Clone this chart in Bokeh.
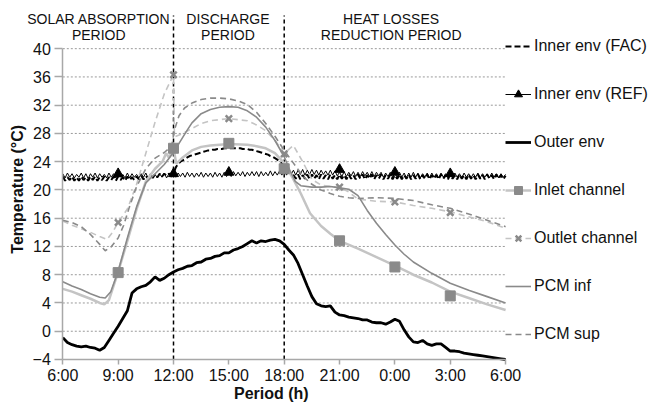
import numpy as np
from bokeh.plotting import figure
from bokeh.models import Range1d, FixedTicker, Legend, LegendItem, Label
from bokeh.embed import file_html
from bokeh.resources import INLINE

# ---------------- data (hours after 6:00) ----------------
x_ticks = [0, 3, 6, 9, 12, 15, 18, 21, 24]
x_tick_labels = ["6:00", "9:00", "12:00", "15:00", "18:00", "21:00", "0:00", "3:00", "6:00"]
y_ticks = [-4, 0, 4, 8, 12, 16, 20, 24, 28, 32, 36, 40]
period_bounds = [6, 12]  # 12:00 and 18:00

# Inner env (REF) sampled every 7.5 min
ref_v = [
    22.3, 21.7, 22.4, 21.8, 22.3, 21.7, 22.2, 21.8, 22.4, 21.7, 22.3, 21.6, 22.3, 21.8, 22.4, 21.7, 22.3, 21.8, 22.2, 21.7, 22.4, 21.8, 22.3, 21.7,
    22.3, 21.8, 22.2, 21.7, 22.4, 21.7, 22.3, 21.8, 22.2, 21.7, 22.3, 21.8, 22.4, 21.7, 22.3, 21.8, 22.2, 21.7, 22.3, 21.8, 22.4, 21.7, 22.3, 21.8,
    22.3, 21.8, 22.4, 21.9, 22.4, 21.8, 22.5, 21.9, 22.4, 21.8, 22.4, 21.9, 22.5, 21.8, 22.4, 21.9, 22.4, 21.8, 22.5, 21.9, 22.4, 21.8, 22.5, 21.9,
    22.5, 21.9, 22.6, 22.0, 22.5, 22.0, 22.6, 21.9, 22.5, 22.0, 22.6, 22.0, 22.6, 21.9, 22.6, 22.0, 22.5, 22.0, 22.7, 22.0, 22.6, 22.1, 22.7, 22.1,
    22.8, 22.1, 22.7, 22.2, 22.8, 22.1, 22.8, 22.2, 22.9, 22.1, 22.8, 22.2, 22.9, 22.2, 22.8, 22.1, 22.8, 22.2, 22.7, 22.1, 22.8, 22.1, 22.7, 22.0,
    22.5, 21.9, 22.6, 21.9, 22.5, 22.0, 22.6, 21.9, 22.5, 21.9, 22.6, 22.0, 22.5, 21.9, 22.6, 21.9, 22.5, 22.0, 22.5, 21.8, 22.4, 21.9, 22.5, 21.8,
    22.4, 21.8, 22.5, 21.8, 22.4, 21.7, 22.4, 21.8, 22.5, 21.8, 22.4, 21.7, 22.3, 21.8, 22.4, 21.7, 22.4, 21.8, 22.3, 21.7, 22.4, 21.8, 22.3, 21.7,
    22.3, 21.7, 22.4, 21.8, 22.3, 21.7, 22.4, 21.8, 22.3, 21.7, 22.3, 21.8, 22.4, 21.7, 22.3, 21.8, 22.3, 21.7, 22.4, 21.8, 22.3, 21.7, 22.3, 21.8,
    22.2,
]
# Inner env (FAC) sampled every 7.5 min
fac_v = [
    21.9, 21.3, 21.8, 21.4, 21.9, 21.3, 21.8, 21.3, 21.9, 21.4, 21.8, 21.3, 21.9, 21.4, 21.9, 21.3, 21.8, 21.4, 21.9, 21.3, 21.8, 21.4, 21.9, 21.3,
    21.9, 21.4, 21.8, 21.3, 21.9, 21.4, 21.8, 21.4, 21.9, 21.5, 22.0, 21.5, 22.0, 21.6, 22.1, 21.7, 22.2, 21.8, 22.3, 21.9, 22.3, 22.0, 22.3, 22.2,
    22.3, 23.2, 23.7, 24.0, 24.2, 24.4, 24.6, 24.8, 24.9, 25.0, 25.1, 25.2, 25.3, 25.4, 25.5, 25.6, 25.6, 25.7, 25.7, 25.8, 25.8, 25.8, 25.9, 25.9,
    25.9, 25.9, 25.9, 25.9, 25.9, 25.9, 25.8, 25.8, 25.8, 25.7, 25.7, 25.6, 25.5, 25.4, 25.3, 25.2, 25.1, 25.0, 24.8, 24.7, 24.5, 24.3, 24.0, 23.8,
    23.5, 23.1, 22.7, 22.3, 22.1, 21.6, 22.2, 21.5, 22.1, 21.6, 22.2, 21.5, 22.2, 21.6, 22.1, 21.5, 22.2, 21.6, 22.1, 21.5, 22.2, 21.6, 22.1, 21.5,
    22.2, 21.6, 22.1, 21.5, 22.2, 21.6, 22.1, 21.5, 22.2, 21.6, 22.2, 21.5, 22.1, 21.6, 22.2, 21.5, 22.1, 21.6, 22.2, 21.5, 22.1, 21.6, 22.2, 21.5,
    22.1, 21.6, 22.2, 21.5, 22.1, 21.6, 22.2, 21.5, 22.1, 21.6, 22.2, 21.5, 22.1, 21.6, 22.2, 21.5, 22.1, 21.6, 22.1, 21.5, 22.2, 21.6, 22.1, 21.5,
    22.2, 21.6, 22.1, 21.5, 22.2, 21.6, 22.1, 21.5, 22.2, 21.6, 22.1, 21.5, 22.2, 21.6, 22.1, 21.5, 22.2, 21.6, 22.1, 21.5, 22.2, 21.6, 22.1, 21.5,
    22.0,
]
zz_t = [i * 0.125 for i in range(len(ref_v))]

# Outer env sampled every 15 min
outer_v = [
    -0.9, -1.6, -1.9, -2.1, -2.2, -2.1, -2.3, -2.4, -2.7, -2.3, -1.3, -0.3,
    0.7, 1.8, 2.9, 5.4, 6.0, 6.3, 6.5, 7.0, 7.7, 7.2, 7.5, 8.0,
    8.4, 8.7, 8.9, 9.2, 9.3, 9.7, 9.8, 10.2, 10.3, 10.6, 10.7, 11.1,
    11.1, 11.5, 11.7, 12.0, 12.4, 12.8, 12.5, 12.8, 12.7, 12.9, 13.0, 12.8,
    12.3, 11.5, 10.8, 9.6, 8.0, 6.4, 4.9, 3.9, 3.6, 3.5, 3.6, 2.7,
    2.3, 2.2, 2.0, 1.9, 1.8, 1.6, 1.6, 1.3, 1.2, 1.2, 1.0, 1.3,
    1.7, 1.4, 0.2, -0.8, -1.5, -1.6, -1.3, -1.8, -2.0, -1.8, -1.8, -2.3,
    -2.8, -2.8, -2.9, -3.1, -3.2, -3.3, -3.4, -3.5, -3.6, -3.7, -3.8, -3.9,
    -4.0,
]
outer_t = [i * 0.25 for i in range(len(outer_v))]

inlet_t = [0, 0.5, 1, 1.5, 2, 2.25, 2.5, 3, 3.5, 4, 4.5, 5, 5.4, 5.6, 5.75, 5.9, 6, 6.15, 6.5, 7, 7.5, 8, 9, 10, 10.5,
           11, 11.5, 12, 12.5, 12.9, 13.4, 14, 14.5, 15, 16, 17, 18, 19, 20, 21, 22, 23, 24]
inlet_v = [6.0, 5.6, 5.1, 4.6, 4.0, 3.8, 4.4, 8.4, 12.8, 17.3, 21.2, 23.0, 24.0, 25.2, 24.6, 25.3, 25.9, 23.7, 24.6, 25.6, 26.1, 26.3, 26.5, 26.4, 26.2,
           25.9, 25.2, 23.8, 21.5, 19.5, 16.7, 14.9, 13.8, 12.8, 11.7, 10.5, 9.3, 8.0, 6.9, 5.6, 4.7, 3.8, 3.0]

outlet_t = [0, 0.5, 1, 1.5, 2, 2.4, 2.7, 3, 3.5, 4, 4.5, 5, 5.5, 6, 6.05, 6.5, 7, 7.5, 8, 9,
            10, 10.5, 11, 11.5, 12, 12.5, 13, 13.5, 14, 14.5, 15, 15.5, 16, 17, 18, 19, 20, 21, 22, 23, 24]
outlet_v = [15.6, 15.0, 14.5, 14.0, 13.4, 13.0, 14.0, 15.4, 17.3, 20.8, 25.2, 29.6, 33.6, 36.3, 27.5, 28.0, 28.7, 29.4, 29.8, 30.1,
            29.8, 29.2, 28.4, 27.0, 25.2, 26.3, 24.0, 21.5, 20.7, 20.5, 20.4, 19.7, 18.7, 18.4, 18.3, 17.8, 17.4, 16.9, 16.2, 15.5, 14.6]

pcm_inf_t = [0, 0.5, 1, 1.5, 2, 2.3, 2.6, 3, 3.5, 4, 4.5, 5, 5.5, 6, 6.3, 6.7, 7, 7.5, 8, 8.5, 9, 9.5, 10, 10.5,
             11, 11.5, 12, 12.3, 12.6, 12.9, 13.5, 14, 14.5, 15, 15.5, 16, 16.5, 17, 17.5, 18, 18.5, 19, 20, 21, 22, 23, 24]
pcm_inf_v = [7.0, 6.4, 5.9, 5.3, 4.8, 4.7, 5.6, 8.5, 13.2, 17.6, 21.0, 22.3, 23.6, 25.3, 26.6, 28.3, 29.5, 30.8, 31.4, 31.7, 31.8, 31.7, 31.2, 30.3,
             28.9, 27.0, 24.7, 22.8, 21.2, 20.6, 20.4, 20.4, 20.5, 20.3, 20.1, 19.2, 17.1, 15.3, 13.7, 12.2, 10.9, 9.8, 8.2, 6.8, 5.8, 4.9, 4.0]

pcm_sup_t = [0, 0.5, 1, 1.5, 2, 2.3, 2.6, 3, 3.3, 3.6, 4, 4.5, 5, 5.5, 5.9, 6.05, 6.3, 6.6, 7, 7.5, 8, 8.5, 9, 9.5, 10,
             10.5, 11, 11.5, 12, 12.5, 13, 13.5, 14, 14.5, 15, 15.5, 16, 17, 18, 19, 20, 21, 22, 23, 24]
pcm_sup_v = [15.7, 15.4, 14.8, 13.7, 12.3, 11.4, 11.9, 13.2, 15.0, 17.5, 20.5, 23.0, 24.5, 25.3, 26.2, 28.5, 30.5, 31.6, 32.3, 32.8, 33.0, 33.0, 32.9, 32.6, 32.1,
             31.0, 29.4, 27.6, 25.6, 23.8, 22.0, 20.8, 20.0, 19.5, 19.1, 18.9, 18.8, 18.9, 18.8, 18.5, 17.9, 17.4, 16.6, 15.7, 14.8]

mk_t = [3, 6, 9, 12, 15, 18, 21]
ref_mk = [22.3, 22.3, 22.5, 22.8, 22.9, 22.5, 22.3]
inlet_mk = [8.3, 25.9, 26.6, 23.0, 12.8, 9.1, 5.0]
outlet_mk = [15.4, 36.3, 30.1, 25.1, 20.4, 18.3, 16.8]

period_titles = [("SOLAR ABSORPTION", "PERIOD", 1.95), ("DISCHARGE", "PERIOD", 8.95), ("HEAT LOSSES", "REDUCTION PERIOD", 17.8)]

# ---------------- figure ----------------
# The frame covers the whole canvas; the axes are pinned with fixed_location
FONT = "Liberation Sans"
LIGHT = "#c4c4c4"
MID = "#8a8a8a"
X0, X1 = -3.377, 31.962
Y0, Y1 = -10.23, 46.82

p = figure(width=652, height=403, x_range=Range1d(X0, X1), y_range=Range1d(Y0, Y1),
           output_backend="svg", toolbar_location=None,
           min_border_left=0, min_border_right=0, min_border_top=0, min_border_bottom=0)
p.outline_line_color = None
p.background_fill_color = "white"
p.border_fill_color = "white"
p.xgrid.visible = False
p.ygrid.visible = False

for ax in (p.xaxis[0], p.yaxis[0]):
    ax.axis_line_color = "#a8a8a8"
    ax.axis_line_width = 1.5
    ax.major_tick_line_color = "#a8a8a8"
    ax.major_tick_line_width = 1.5
    ax.minor_tick_line_color = None
    ax.major_tick_in = 0
    ax.major_label_text_font = FONT
    ax.major_label_text_font_size = "16px"
    ax.major_label_text_color = "#111111"

p.yaxis.ticker = FixedTicker(ticks=y_ticks)
p.yaxis.bounds = (y_ticks[0], y_ticks[-1])
p.yaxis.fixed_location = x_ticks[0]
p.yaxis.major_tick_out = 8
p.yaxis.major_label_standoff = 4
p.xaxis.ticker = FixedTicker(ticks=x_ticks)
p.xaxis.bounds = (x_ticks[0], x_ticks[-1])
p.xaxis.fixed_location = y_ticks[0]
p.xaxis.major_label_overrides = {t: l for t, l in zip(x_ticks, x_tick_labels)}
p.xaxis.major_tick_out = 5
p.xaxis.major_label_standoff = 3

# horizontal dotted grid at the y ticks, spanning the time axis
gy = y_ticks[1:]
p.segment(x0=[x_ticks[0]] * len(gy), y0=gy, x1=[x_ticks[-1]] * len(gy), y1=gy,
          line_color="#9a9a9a", line_width=1, line_dash="2 2")

# period boundaries
p.segment(x0=period_bounds, y0=[-4] * len(period_bounds), x1=period_bounds, y1=[44.7] * len(period_bounds),
          line_color="black", line_width=1.5, line_dash="4 3")

# series
r_fac = p.line(zz_t, fac_v, line_color="black", line_width=2, line_dash="6 3")
r_ref = p.line(zz_t, ref_v, line_color="black", line_width=1)
r_ref_m = p.scatter(mk_t, ref_mk, marker="triangle", size=10, fill_color="black", line_color="black")
r_out = p.line(outer_t, outer_v, line_color="black", line_width=2.8)
r_in = p.line(inlet_t, inlet_v, line_color=LIGHT, line_width=2.5)
r_in_m = p.scatter(mk_t, inlet_mk, marker="square", size=10, fill_color=MID, line_color=MID)
r_outl = p.line(outlet_t, outlet_v, line_color=LIGHT, line_width=1.6, line_dash="6 4")
r_outl_m = p.scatter(mk_t, outlet_mk, marker="x", size=9, line_color=MID, line_width=2.5)
r_pinf = p.line(pcm_inf_t, pcm_inf_v, line_color=MID, line_width=1.6)
r_psup = p.line(pcm_sup_t, pcm_sup_v, line_color=MID, line_width=1.6, line_dash="6 4")

legend = Legend(items=[
    LegendItem(label="Inner env (FAC)", renderers=[r_fac]),
    LegendItem(label="Inner env (REF)", renderers=[r_ref, r_ref_m]),
    LegendItem(label="Outer env", renderers=[r_out]),
    LegendItem(label="Inlet channel", renderers=[r_in, r_in_m]),
    LegendItem(label="Outlet channel", renderers=[r_outl, r_outl_m]),
    LegendItem(label="PCM inf", renderers=[r_pinf]),
    LegendItem(label="PCM sup", renderers=[r_psup]),
], location=(505, 59), orientation="vertical", padding=0, margin=0, spacing=28,
    glyph_width=26, glyph_height=20, label_height=20, label_standoff=3,
    border_line_color=None, background_fill_alpha=0,
    label_text_font=FONT, label_text_font_size="16px", label_text_color="#111111")
p.add_layout(legend)

# period titles
for l1, l2, xc in period_titles:
    p.add_layout(Label(x=xc, y=44.27, text=l1, text_align="center", text_baseline="middle",
                       text_font=FONT, text_font_size="14px", text_color="#111111"))
    p.add_layout(Label(x=xc, y=41.87, text=l2, text_align="center", text_baseline="middle",
                       text_font=FONT, text_font_size="14px", text_color="#111111"))

# axis titles
p.add_layout(Label(x=11.3, y=-8.8, text="Period (h)", text_align="center", text_baseline="middle",
                   text_font=FONT, text_font_size="16px", text_font_style="bold", text_color="#111111"))
p.add_layout(Label(x=-2.46, y=20.1, text="Temperature (°C)", angle=np.pi / 2, text_align="center",
                   text_baseline="middle", text_font=FONT, text_font_size="16px", text_font_style="bold",
                   text_color="#111111"))

open("out.html", "w").write(file_html(p, INLINE))
